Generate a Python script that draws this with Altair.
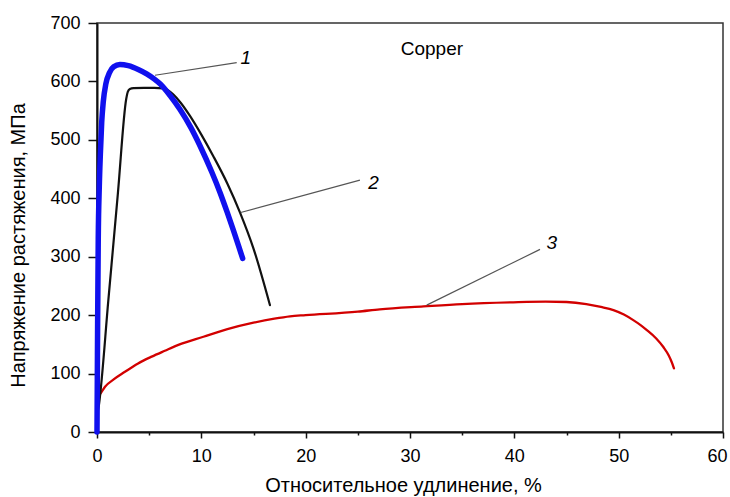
import altair as alt
import pandas as pd

# Curve 1 (blue)
blue_x = [0.0, 0.03, 0.06, 0.12, 0.22, 0.32, 0.45, 0.6, 0.85, 1.2, 1.6, 2.2, 3.0, 4.0, 4.76, 5.5, 6.04, 7.0, 7.96, 9.0, 9.87, 11.0, 11.79, 12.5, 13.06, 13.6, 13.96]
blue_y = [0, 90, 186, 330, 420, 475, 530, 565, 596, 615, 625, 629, 627, 620, 613, 604, 596, 576, 552, 521, 490, 445, 410, 375, 346, 317, 297]

# Curve 2 (black)
black_x = [0.0, 0.05, 0.2, 1.09, 2.0, 2.8, 2.95, 3.15, 3.5, 4.5, 5.5, 6.36, 6.8, 7.3, 8.0, 8.91, 10.0, 11.15, 12.5, 13.7, 15.0, 16.58]
black_y = [0, 30, 48, 226, 408, 570, 582, 587, 588.5, 589, 589, 588, 585, 578, 564, 541, 509, 472, 425, 376, 314, 217]

# Curve 3 (red)
red_x = [0.0, 0.0, 0.35, 0.77, 1.6, 2.68, 3.9, 5.24, 6.5, 7.8, 10.2, 12.5, 15.0, 17.0, 18.5, 20.0, 25.0, 27.1, 31.3, 35.0, 39.9, 43.0, 45.0, 46.9, 48.3, 49.5, 50.5, 51.4, 52.1, 52.7, 53.6, 54.3, 54.8, 55.1, 55.3]
red_y = [20, 57.6, 66, 77.5, 90, 103, 117, 129, 139, 149, 163, 176, 187, 194, 198, 200, 206, 210, 215, 219, 222, 223, 222.5, 219, 214, 208.6, 201, 191.5, 183, 174.4, 160, 145, 131, 119, 109]

# Leader lines and labels
lead_x = [5.56, 13.77, 31.6]
lead_y = [610.6, 375.7, 217.2]
lead_x2 = [13.39, 25.2, 42.46]
lead_y2 = [632.3, 431.0, 312.5]
label_text = ["1", "2", "3"]
label_x = [14.25, 26.5, 43.6]
label_y = [639.6, 425.9, 324.0]

note_text = ["Copper"]
note_x = [32.1]
note_y = [656.0]

x_ticks = list(range(0, 61, 5))
y_ticks = list(range(0, 701, 50))

FONT = "Liberation Sans"


def frame(xs, ys):
    return pd.DataFrame({"x": xs, "y": ys, "i": list(range(len(xs)))})


xscale = alt.Scale(domain=[0, 60], nice=False, zero=False)
yscale = alt.Scale(domain=[0, 700], nice=False, zero=False)

x_axis = alt.Axis(
    title="Относительное удлинение, %",
    values=x_ticks,
    labelExpr="datum.value % 10 == 0 ? datum.label : ''",
    tickSize={"condition": {"test": "datum.value % 10 == 0", "value": 6}, "value": 3},
    labelOffset={"condition": {"test": "datum.value == 60", "value": -6}, "value": 0},
    labelFlush=False,
    labelPadding=9,
    titlePadding=10,
    titleX=306,
    grid=False,
)
y_axis = alt.Axis(
    title="Напряжение растяжения, МПа",
    values=y_ticks,
    labelExpr="datum.value % 100 == 0 ? datum.label : ''",
    tickSize={"condition": {"test": "datum.value % 100 == 0", "value": 9}, "value": 4},
    labelPadding=8,
    titleX=-69,
    titleY=222,
    grid=False,
)


def curve(xs, ys, color, width):
    return alt.Chart(frame(xs, ys)).mark_line(
        color=color, strokeWidth=width, strokeJoin="round", strokeCap="round", interpolate="monotone"
    ).encode(
        x=alt.X("x:Q", scale=xscale, axis=x_axis),
        y=alt.Y("y:Q", scale=yscale, axis=y_axis),
        order="i:Q",
    )


red = curve(red_x, red_y, "#d20000", 2.3)
black = curve(black_x, black_y, "#111111", 2.2)
blue = curve(blue_x, blue_y, "#1010ee", 5.5)

leaders = alt.Chart(pd.DataFrame({"x": lead_x, "y": lead_y, "x2": lead_x2, "y2": lead_y2})).mark_rule(
    color="#555555", strokeWidth=1.2
).encode(
    x=alt.X("x:Q", scale=xscale),
    y=alt.Y("y:Q", scale=yscale),
    x2="x2:Q",
    y2="y2:Q",
)

labels = alt.Chart(pd.DataFrame({"t": label_text, "x": label_x, "y": label_y})).mark_text(
    font=FONT, fontSize=19, fontStyle="italic", color="#000000", align="center", baseline="middle"
).encode(
    x=alt.X("x:Q", scale=xscale),
    y=alt.Y("y:Q", scale=yscale),
    text="t:N",
)

note = alt.Chart(pd.DataFrame({"t": note_text, "x": note_x, "y": note_y})).mark_text(
    font=FONT, fontSize=19, color="#000000", align="center", baseline="middle"
).encode(
    x=alt.X("x:Q", scale=xscale),
    y=alt.Y("y:Q", scale=yscale),
    text="t:N",
)

chart = alt.layer(red, black, blue, leaders, labels, note).properties(
    width=626,
    height=409,
    autosize=alt.AutoSizeParams(type="none"),
    padding={"left": 97, "top": 23, "right": 7, "bottom": 65},
    background="white",
).configure_view(
    stroke="#333333", strokeWidth=1.5
).configure_axis(
    labelFont=FONT,
    titleFont=FONT,
    labelFontSize=18,
    titleFontSize=20,
    titleFontWeight="normal",
    labelColor="#000000",
    titleColor="#000000",
    domainColor="#111111",
    domainWidth=2,
    tickColor="#111111",
    tickWidth=1.5,
)

chart.save("out.html", embed_options={"renderer": "svg", "actions": False})
